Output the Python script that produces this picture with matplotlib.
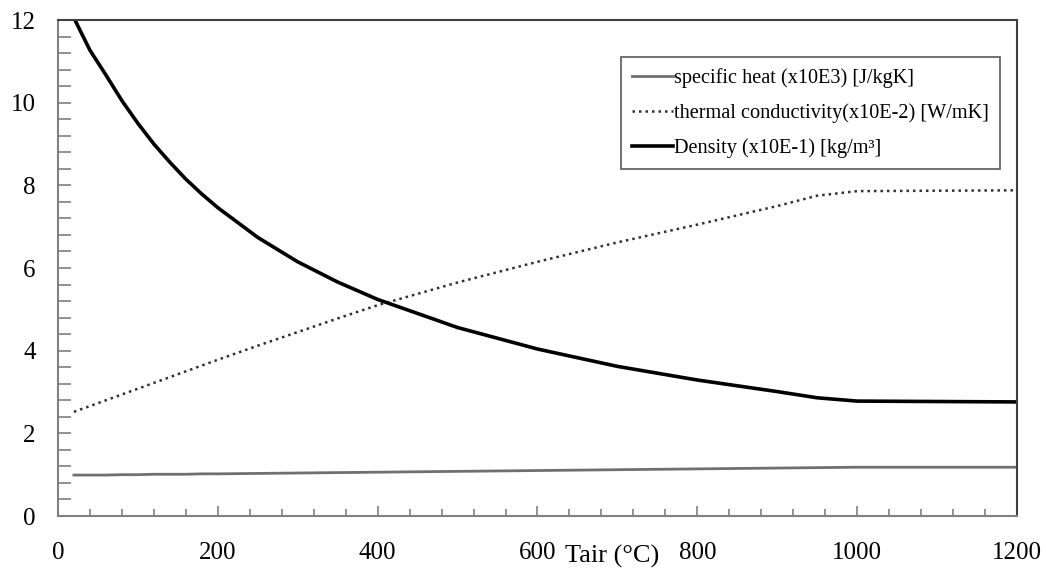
import matplotlib.pyplot as plt
from matplotlib.ticker import MultipleLocator

plt.rcParams['font.family'] = ['Liberation Serif', 'DejaVu Serif']

temp = [20, 40, 60, 80, 100, 120, 140, 160, 180, 200, 250, 300, 350, 400, 500, 600, 700, 800, 900, 950, 1000, 1100, 1200]
density = [12.05, 11.27, 10.67, 10.05, 9.5, 9.0, 8.56, 8.15, 7.79, 7.46, 6.74, 6.15, 5.66, 5.24,
           4.56, 4.04, 3.62, 3.29, 3.01, 2.86, 2.78, 2.77, 2.76]
conductivity = [2.52, 2.66, 2.8, 2.94, 3.08, 3.22, 3.36, 3.5, 3.64, 3.78, 4.12, 4.45, 4.78, 5.1,
                5.65, 6.15, 6.62, 7.05, 7.5, 7.75, 7.86, 7.87, 7.88]
specific_heat = [0.99, 0.99, 0.99, 1.0, 1.0, 1.01, 1.01, 1.01, 1.02, 1.02, 1.03, 1.04, 1.05, 1.06,
                 1.08, 1.1, 1.12, 1.14, 1.16, 1.17, 1.18, 1.18, 1.18]

fig = plt.figure(figsize=(10.46, 5.72), dpi=100)
ax = fig.add_axes([0.0554, 0.0979, 0.9169, 0.8671])

ax.plot(temp, specific_heat, color='#707070', lw=2.0, label='specific heat (x10E3) [J/kgK]')
ax.plot(temp, conductivity, color='#303030', lw=1.8, linestyle=(0, (1, 1.6)),
        label='thermal conductivity(x10E-2) [W/mK]')
ax.plot(temp, density, color='black', lw=2.6, label='Density (x10E-1) [kg/m³]')

ax.set_xlim(0, 1200)
ax.set_ylim(0, 12)
ax.xaxis.set_major_locator(MultipleLocator(200))
ax.xaxis.set_minor_locator(MultipleLocator(40))
ax.yaxis.set_major_locator(MultipleLocator(2))
ax.yaxis.set_minor_locator(MultipleLocator(0.4))

ax.tick_params(axis='both', which='both', direction='in', colors='#808080', labelcolor='black',
               labelsize=18)
ax.tick_params(axis='y', which='both', length=9, width=1.2, pad=16)
ax.tick_params(axis='x', which='major', length=7, width=1.2, pad=19)
ax.tick_params(axis='x', which='minor', length=5, width=1.2)

for side in ['left', 'bottom']:
    ax.spines[side].set_color('#808080')
    ax.spines[side].set_linewidth(1.5)
for side in ['top', 'right']:
    ax.spines[side].set_color('#404040')
    ax.spines[side].set_linewidth(1.5)

ax.text(0.578, -0.082, 'Tair (°C)', transform=ax.transAxes, fontsize=19,
        ha='center', va='center')

leg = ax.legend(loc='upper right', bbox_to_anchor=(0.982, 0.925), fontsize=14.6, frameon=True,
                fancybox=False, handlelength=2.0, handletextpad=0.05, borderpad=0.55,
                labelspacing=0.75, borderaxespad=0)
leg.get_frame().set_edgecolor('#404040')
leg.get_frame().set_linewidth(1.3)

fig.savefig('out.png', dpi=100)
